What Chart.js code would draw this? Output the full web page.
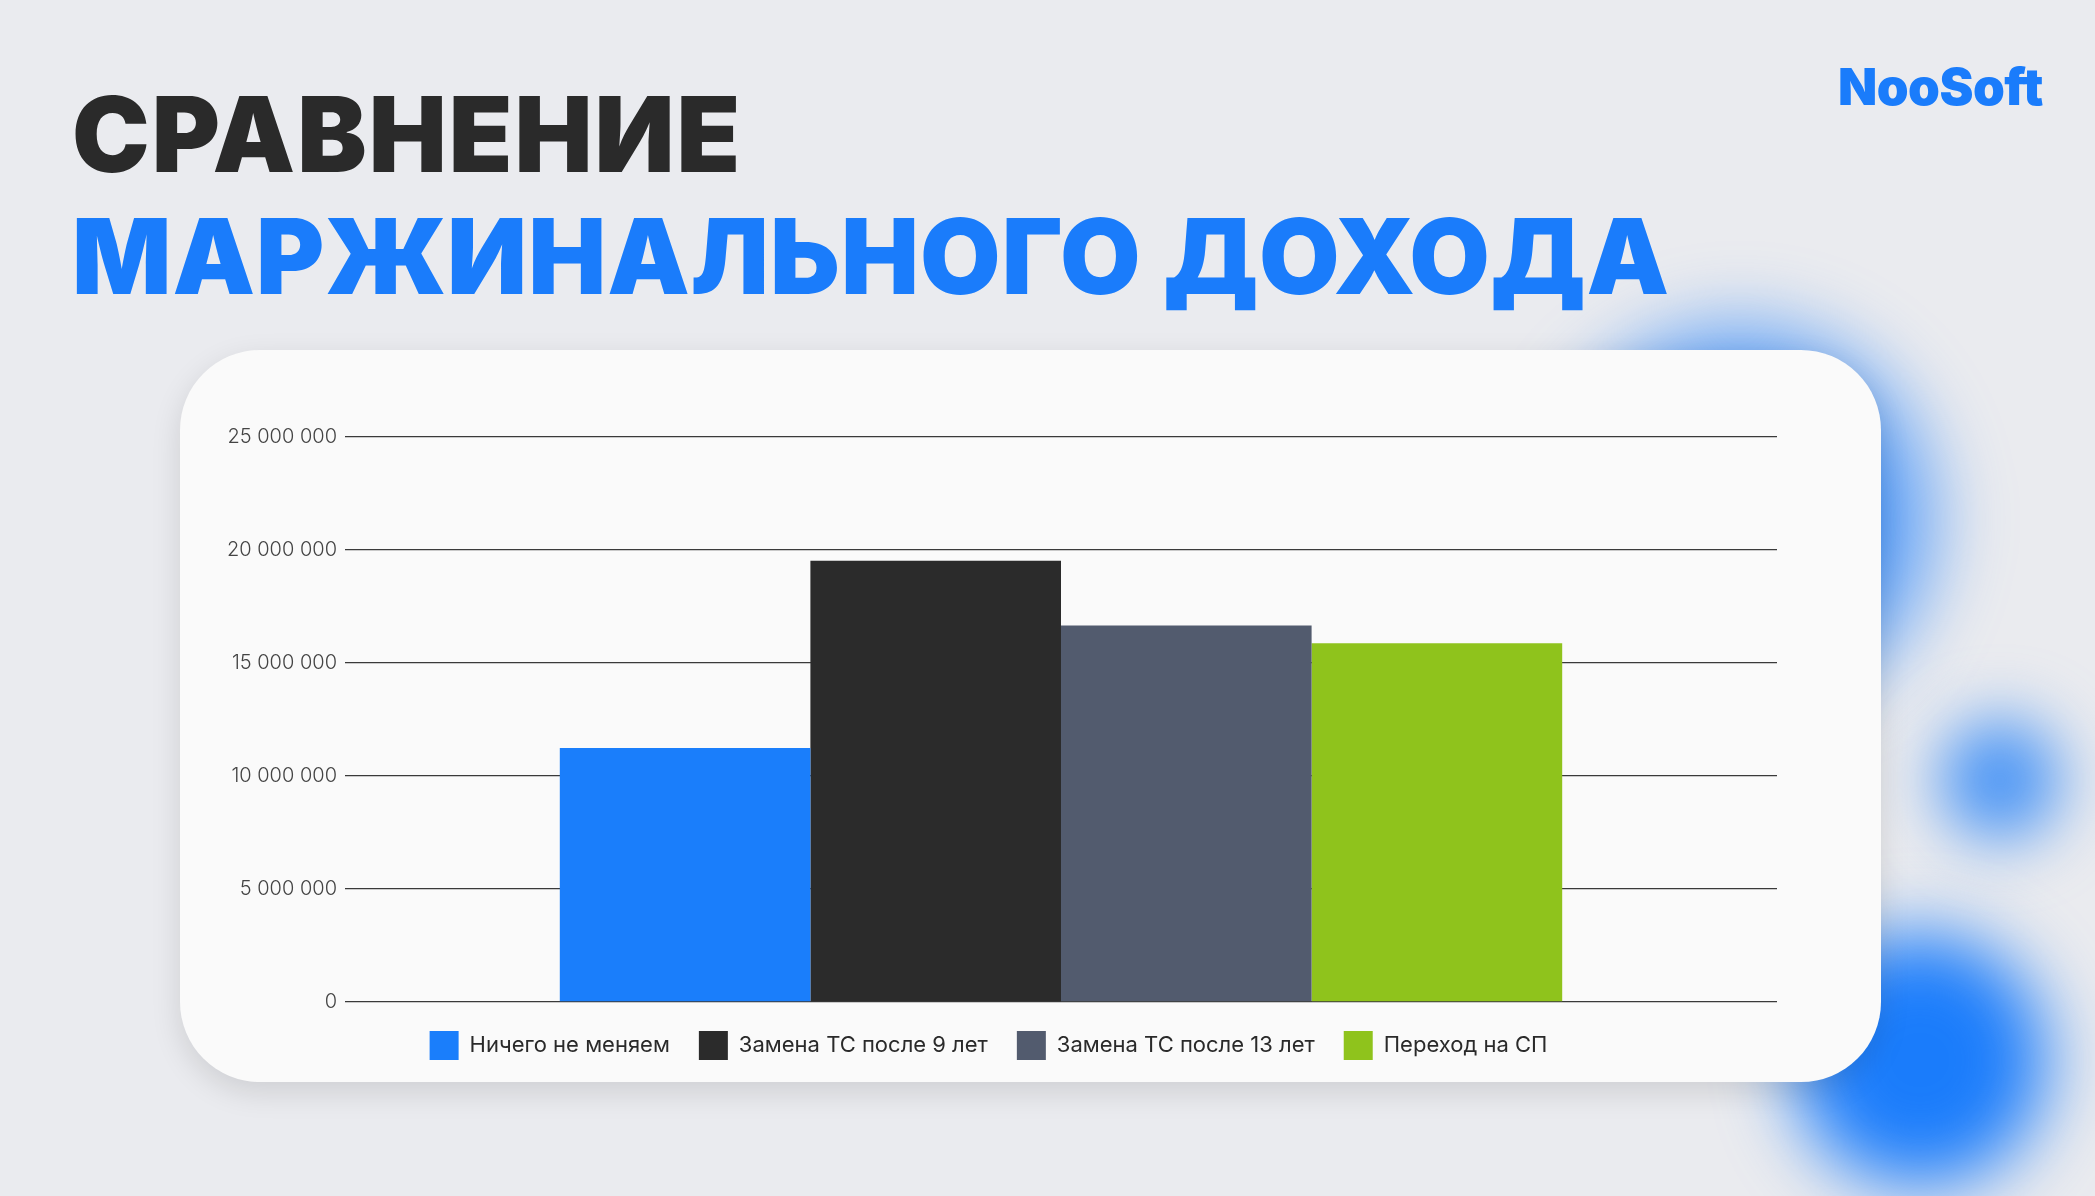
<!DOCTYPE html>
<html>
<head>
<meta charset="utf-8">
<script src="https://cdn.jsdelivr.net/npm/chart.js@4/dist/chart.umd.min.js"></script>
<style>
  html, body { margin: 0; padding: 0; }
  body { width: 2095px; height: 1196px; background: #eaebef; position: relative; overflow: hidden; font-family: "Inter", "Noto Sans", sans-serif; }
  .blob { position: absolute; border-radius: 50%; filter: blur(30px); }
  .title { position: absolute; left: 72px; font-weight: 900; font-size: 104px; letter-spacing: 2px; margin: 0; line-height: 1; }
  .logo { position: absolute; left: 1838px; top: 56px; font-weight: 900; font-size: 51px; color: #1a7cfb; letter-spacing: -0.5px; }
  .card { position: absolute; left: 180px; top: 350px; width: 1701px; height: 732px; background: #fafafa; border-radius: 80px; box-shadow: 0 10px 30px rgba(0,0,0,0.12); }
  .card canvas { position: absolute; left: 0; top: 0; }
</style>
</head>
<body>
<div class="blob" style="left:1520px;top:300px;width:440px;height:440px;background:radial-gradient(circle, #1a7cfb 30%, rgba(26,124,251,0.4) 60%, rgba(26,124,251,0) 75%);"></div>
<div class="blob" style="left:1920px;top:700px;width:160px;height:160px;background:radial-gradient(circle, #4a95f5 35%, rgba(26,124,251,0) 70%);"></div>
<div class="blob" style="left:1760px;top:900px;width:320px;height:320px;background:radial-gradient(circle, #1a7cfb 40%, rgba(26,124,251,0) 70%);"></div>
<div class="title" style="top:82px;color:#2a2a2a;">СРАВНЕНИЕ</div>
<div class="title" style="top:204px;color:#1a7cfb;letter-spacing:1px;">МАРЖИНАЛЬНОГО ДОХОДА</div>
<div class="logo">NooSoft</div>
<div class="card"><canvas id="chart" width="1701" height="732"></canvas></div>
<script>
// данные с графика
const categories = ['Маржинальный доход'];
const seriesNames = ['Ничего не меняем', 'Замена ТС после 9 лет', 'Замена ТС после 13 лет', 'Переход на СП'];
const seriesValues = [11240000, 19520000, 16660000, 15870000];
const seriesColors = ['#1a7efb', '#2b2b2b', '#525b6e', '#8fc31c'];
const yTicks = [0, 5000000, 10000000, 15000000, 20000000, 25000000];

const ctx = document.getElementById('chart').getContext('2d');
new Chart(ctx, {
    type: 'bar',
    data: {
        labels: categories,
        datasets: seriesNames.map((name, i) => ({
            label: name,
            data: [seriesValues[i]],
            backgroundColor: seriesColors[i],
            borderWidth: 0
        }))
    },
    options: {
        responsive: false,
        animation: false,
        layout: { padding: { left: 20, top: 87, right: 104, bottom: 12 } },
        datasets: { bar: { categoryPercentage: 0.7, barPercentage: 1 } },
        scales: {
            x: { display: false },
            y: {
                min: 0, max: 25000000,
                afterFit: s => { s.width = 145; },
                afterBuildTicks: s => { s.ticks = yTicks.map(v => ({ value: v })); },
                border: { display: false },
                grid: { color: '#3a3a3a', lineWidth: 1.3, drawTicks: false },
                ticks: {
                    padding: 8,
                    color: '#444',
                    font: { family: 'Inter', size: 20, weight: 300 },
                    callback: v => v.toString().replace(/\B(?=(\d{3})+(?!\d))/g, ' ')
                }
            }
        },
        plugins: {
            tooltip: { enabled: false },
            legend: {
                position: 'bottom',
                labels: {
                    boxWidth: 29, boxHeight: 29, padding: 29,
                    color: '#2a2a2a',
                    font: { family: 'Inter', size: 22 }
                }
            }
        }
    }
});
</script>
</body>
</html>
